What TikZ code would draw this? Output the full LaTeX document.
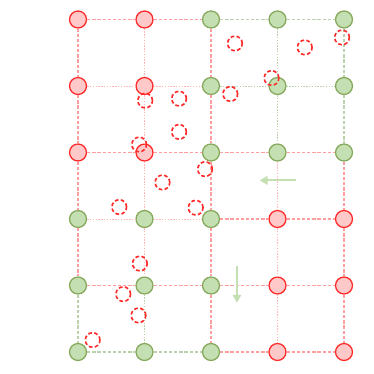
\documentclass[tikz,border=0pt]{standalone}
\usepackage{xcolor}
\usetikzlibrary{arrows.meta}
\definecolor{ownred}{HTML}{FF2B2B}
\definecolor{ownredfill}{HTML}{FFC9C9}
\definecolor{owngreen}{HTML}{86A95C}
\definecolor{owngreenfill}{HTML}{C4DFB2}
\definecolor{meshred}{HTML}{FF9E9E}
\definecolor{meshgreen}{HTML}{BCD0AC}
\tikzset{
  rnode/.style={circle, draw=ownred, fill=ownredfill, line width=0.55pt, minimum size=2.55mm, inner sep=0pt},
  gnode/.style={circle, draw=owngreen, fill=owngreenfill, line width=0.55pt, minimum size=2.55mm, inner sep=0pt},
  ptcl/.style={circle, draw=ownred, dash pattern=on 1.6pt off 1pt, line width=0.7pt, minimum size=2.2mm, inner sep=0pt},
  rbound/.style={meshred, line width=0.45pt, dash pattern=on 1.4pt off 0.8pt},
  rinner/.style={meshred!75, line width=0.4pt, dash pattern=on 0.6pt off 0.6pt},
  gbound/.style={meshgreen, line width=0.45pt, dash pattern=on 1.4pt off 0.8pt},
  ginner/.style={meshgreen, line width=0.4pt, dash pattern=on 0.6pt off 0.6pt},
  flow/.style={-{Triangle[length=3.4pt, width=3.6pt]}, line width=0.9pt, color=owngreenfill}
}

\begin{document}
\begin{tikzpicture}
\useasboundingbox (-1.173,-0.331) rectangle (4.451,5.293);

% grid points, row 0 at the top
\node[rnode] (n00) at (0,5) {}; \node[rnode] (n01) at (1,5) {}; \node[gnode] (n02) at (2,5) {}; \node[gnode] (n03) at (3,5) {}; \node[gnode] (n04) at (4,5) {};
\node[rnode] (n10) at (0,4) {}; \node[rnode] (n11) at (1,4) {}; \node[gnode] (n12) at (2,4) {}; \node[gnode] (n13) at (3,4) {}; \node[gnode] (n14) at (4,4) {};
\node[rnode] (n20) at (0,3) {}; \node[rnode] (n21) at (1,3) {}; \node[gnode] (n22) at (2,3) {}; \node[gnode] (n23) at (3,3) {}; \node[gnode] (n24) at (4,3) {};
\node[gnode] (n30) at (0,2) {}; \node[gnode] (n31) at (1,2) {}; \node[gnode] (n32) at (2,2) {}; \node[rnode] (n33) at (3,2) {}; \node[rnode] (n34) at (4,2) {};
\node[gnode] (n40) at (0,1) {}; \node[gnode] (n41) at (1,1) {}; \node[gnode] (n42) at (2,1) {}; \node[rnode] (n43) at (3,1) {}; \node[rnode] (n44) at (4,1) {};
\node[gnode] (n50) at (0,0) {}; \node[gnode] (n51) at (1,0) {}; \node[gnode] (n52) at (2,0) {}; \node[rnode] (n53) at (3,0) {}; \node[rnode] (n54) at (4,0) {};

% green cells
\draw[gbound] (n02) -- (n03) -- (n04);
\draw[gbound] (n22) -- (n23) -- (n24);
\draw[gbound] (n02) -- (n12) -- (n22);
\draw[gbound] (n04) -- (n14) -- (n24);
\draw[ginner] (n12) -- (n13) -- (n14);
\draw[ginner] (n03) -- (n13) -- (n23);
\draw[gbound] (n40) -- (n41) -- (n42);
\draw[gbound] (n50) -- (n51) -- (n52);
\draw[gbound] (n40) -- (n50);
\draw[gbound] (n42) -- (n52);
\draw[ginner] (n41) -- (n51);

% red cells
\draw[rbound] (n00) -- (n01) -- (n02);
\draw[rbound] (n20) -- (n21) -- (n22) -- (n23) -- (n24);
\draw[rbound] (n32) -- (n33) -- (n34);
\draw[rbound] (n40) -- (n41) -- (n42) -- (n43) -- (n44);
\draw[rbound] (n52) -- (n53) -- (n54);
\draw[rbound] (n00) -- (n10) -- (n20) -- (n30) -- (n40);
\draw[rbound] (n02) -- (n12) -- (n22) -- (n32) -- (n42) -- (n52);
\draw[rbound] (n24) -- (n34) -- (n44) -- (n54);
\draw[rinner] (n10) -- (n11) -- (n12);
\draw[rinner] (n30) -- (n31) -- (n32);
\draw[rinner] (n01) -- (n11) -- (n21) -- (n31) -- (n41);
\draw[rinner] (n23) -- (n33) -- (n43) -- (n53);

% particles
\node[ptcl] (p1) at (2.36,4.64) {};
\node[ptcl] (p2) at (3.41,4.58) {};
\node[ptcl] (p3) at (3.97,4.73) {};
\node[ptcl] (p4) at (2.91,4.12) {};
\node[ptcl] (p5) at (2.29,3.88) {};
\node[ptcl] (p6) at (1.52,3.81) {};
\node[ptcl] (p7) at (1.01,3.78) {};
\node[ptcl] (p8) at (1.52,3.31) {};
\node[ptcl] (p9) at (0.92,3.12) {};
\node[ptcl] (p10) at (1.91,2.75) {};
\node[ptcl] (p11) at (1.27,2.55) {};
\node[ptcl] (p12) at (0.62,2.18) {};
\node[ptcl] (p13) at (1.77,2.17) {};
\node[ptcl] (p14) at (0.93,1.33) {};
\node[ptcl] (p15) at (0.68,0.87) {};
\node[ptcl] (p16) at (0.91,0.55) {};
\node[ptcl] (p17) at (0.22,0.18) {};

% moves
\coordinate (m1a) at (3.28,2.58);
\coordinate (m1b) at (2.73,2.58);
\draw[flow] (m1a) -- (m1b);
\coordinate (m2a) at (2.39,1.30);
\coordinate (m2b) at (2.39,0.74);
\draw[flow] (m2a) -- (m2b);

\end{tikzpicture}
\end{document}
